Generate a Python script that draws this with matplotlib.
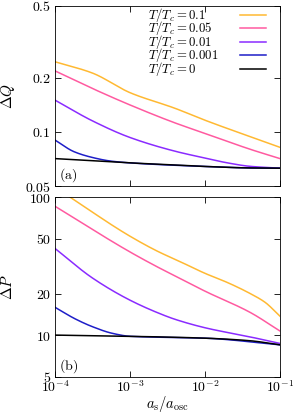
import numpy as np
import matplotlib
matplotlib.use('Agg')
import matplotlib.pyplot as plt
import matplotlib as mpl
from matplotlib.ticker import FixedLocator, FixedFormatter, NullLocator

mpl.rcParams['font.family'] = 'serif'
mpl.rcParams['font.serif'] = ['DejaVu Serif']
mpl.rcParams['mathtext.fontset'] = 'cm'

# Data: x = a_s/a_osc
labels = [r'$T/T_c = 0.1$', r'$T/T_c = 0.05$', r'$T/T_c = 0.01$',
          r'$T/T_c = 0.001$', r'$T/T_c = 0$']
colors = ['#ffb932', '#ff5aa0', '#8a2bff', '#1e1ec8', '#000000']

# panel (a): Delta Q
xq = [
    [1e-4, 3.16e-4, 1e-3, 4e-3, 1e-2, 4e-2, 1e-1],
    [1e-4, 3.16e-4, 1e-3, 4e-3, 1e-2, 4e-2, 1e-1],
    [1e-4, 3.16e-4, 1e-3, 4e-3, 1e-2, 2e-2, 4e-2, 1e-1],
    [1e-4, 1.8e-4, 3.16e-4, 5.5e-4, 1e-3, 1e-2, 4e-2, 1e-1],
    [1e-4, 1e-3, 4e-3, 1e-2, 4e-2, 1e-1],
]
dq = [
    [0.245, 0.212, 0.165, 0.135, 0.116, 0.094, 0.082],
    [0.218, 0.174, 0.141, 0.112, 0.098, 0.080, 0.071],
    [0.150, 0.115, 0.093, 0.078, 0.0715, 0.0672, 0.0643, 0.0628],
    [0.090, 0.0775, 0.072, 0.0688, 0.0672, 0.0642, 0.0630, 0.0628],
    [0.071, 0.0672, 0.0655, 0.0642, 0.0630, 0.0628],
]

# panel (b): Delta P
xp = [
    [1e-4, 1.58e-4, 1e-3, 2.5e-3, 4e-3, 1e-2, 2e-2, 4e-2, 6.3e-2, 1e-1],
    [1e-4, 1e-3, 2.5e-3, 4e-3, 1e-2, 4e-2, 1e-1],
    [1e-4, 3.16e-4, 1e-3, 2.5e-3, 4e-3, 1e-2, 4e-2, 1e-1],
    [1e-4, 1.86e-4, 3.16e-4, 5.8e-4, 1e-3, 1e-2, 1e-1],
    [1e-4, 1e-3, 1e-2, 4e-2, 1e-1],
]
dp = [
    [118, 100, 52, 39.7, 35.4, 28.0, 24.0, 20.0, 17.3, 13.7],
    [85.7, 40, 30.5, 26.8, 20.8, 14.6, 10.7],
    [42.4, 25.9, 17.9, 14.3, 13.0, 11.3, 9.7, 8.7],
    [15.9, 13.1, 11.5, 10.3, 9.8, 9.5, 8.5],
    [10.0, 9.8, 9.5, 9.1, 8.5],
]

xticks = [1e-4, 1e-3, 1e-2, 1e-1]
xticklabels = [r'$10^{-4}$', r'$10^{-3}$', r'$10^{-2}$', r'$10^{-1}$']
qticks = [0.05, 0.1, 0.2, 0.5]
qticklabels = ['$0.05$', '$0.1$', '$0.2$', '$0.5$']
pticks = [5, 10, 20, 50, 100]
pticklabels = ['$5$', '$10$', '$20$', '$50$', '$100$']


def pchip(x, y, xs):
    # monotone cubic (Fritsch-Carlson) interpolation
    h = np.diff(x)
    d = np.diff(y) / h
    n = len(x)
    m = np.zeros(n)
    m[0], m[-1] = d[0], d[-1]
    for k in range(1, n - 1):
        if d[k - 1] * d[k] > 0:
            w1 = 2 * h[k] + h[k - 1]
            w2 = h[k] + 2 * h[k - 1]
            m[k] = (w1 + w2) / (w1 / d[k - 1] + w2 / d[k])
    idx = np.clip(np.searchsorted(x, xs) - 1, 0, n - 2)
    t = (xs - x[idx]) / h[idx]
    h00 = 2 * t**3 - 3 * t**2 + 1
    h10 = t**3 - 2 * t**2 + t
    h01 = -2 * t**3 + 3 * t**2
    h11 = t**3 - t**2
    return (h00 * y[idx] + h10 * h[idx] * m[idx] + h01 * y[idx + 1]
            + h11 * h[idx] * m[idx + 1])


def smooth(x, y):
    lx = np.log10(x)
    ly = np.log10(y)
    xs = np.linspace(lx[0], lx[-1], 300)
    return 10 ** xs, 10 ** pchip(lx, ly, xs)


fig = plt.figure(figsize=(2.93, 4.13), dpi=100)
ax1 = fig.add_axes([0.1877, 0.5496, 0.7679, 0.4359])
ax2 = fig.add_axes([0.1877, 0.0880, 0.7679, 0.4350])

for i in range(5):
    sx, sy = smooth(xq[i], dq[i])
    ax1.plot(sx, sy, color=colors[i], lw=1.1)
    sx, sy = smooth(xp[i], dp[i])
    ax2.plot(sx, sy, color=colors[i], lw=1.1)

for ax in (ax1, ax2):
    ax.set_xscale('log')
    ax.set_yscale('log')
    ax.set_xlim(1e-4, 1e-1)
    ax.xaxis.set_major_locator(FixedLocator(xticks))
    ax.xaxis.set_minor_locator(NullLocator())
    ax.yaxis.set_minor_locator(NullLocator())
    ax.tick_params(direction='in', top=True, right=True, length=4,
                   width=0.6, labelsize=10, pad=3)
    ax.tick_params(axis='x', pad=2)
    for s in ax.spines.values():
        s.set_linewidth(0.6)

ax1.set_ylim(0.05, 0.5)
ax1.yaxis.set_major_locator(FixedLocator(qticks))
ax1.yaxis.set_major_formatter(FixedFormatter(qticklabels))
ax1.set_xticklabels([])
ax1.set_ylabel(r'$\Delta Q$', fontsize=11, labelpad=6)
ax1.text(0.02, 0.04, r'$(\mathrm{a})$', transform=ax1.transAxes, fontsize=10)

# legend drawn gnuplot-style: text left, sample line right
for i in range(5):
    yy = 0.95 - i * 0.075
    ax1.text(0.413, yy, labels[i], transform=ax1.transAxes, fontsize=9.2,
             va='center', ha='left')
    ax1.plot([0.822, 0.938], [yy, yy], color=colors[i], lw=1.1,
             transform=ax1.transAxes)

ax2.set_ylim(5, 100)
ax2.yaxis.set_major_locator(FixedLocator(pticks))
ax2.yaxis.set_major_formatter(FixedFormatter(pticklabels))
ax2.xaxis.set_major_formatter(FixedFormatter(xticklabels))
ax2.set_ylabel(r'$\Delta P$', fontsize=11, labelpad=10)
ax2.set_xlabel(r'$a_\mathrm{s}/a_\mathrm{osc}$', fontsize=10.5, labelpad=-1)
ax2.text(0.02, 0.04, r'$(\mathrm{b})$', transform=ax2.transAxes, fontsize=10)

plt.savefig('out.png', dpi=100)
